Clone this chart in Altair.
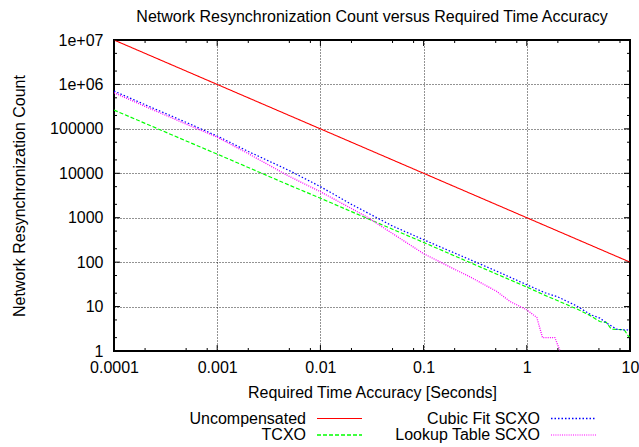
import json
import altair as alt
import pandas as pd

# ---------------- data ----------------
series = ["Uncompensated", "TCXO", "Cubic Fit SCXO", "Lookup Table SCXO"]
colors = ["#ff0000", "#00ff00", "#0000ff", "#ff00ff"]

unc_t = [0.0001, 0.001, 0.01, 0.1, 1, 10]
unc_n = [1e7, 1e6, 1e5, 1e4, 1000, 100]

tcxo_t = [0.0001, 0.0002, 0.0005, 0.001, 0.002, 0.005, 0.01, 0.02, 0.05, 0.1,
          0.2, 0.5, 1, 1.44, 2, 3, 4, 5.1, 5.9, 6.6, 8.8, 9.6, 10]
tcxo_n = [265000, 133000, 53500, 27000, 13500, 5400, 2750, 1370, 550, 278,
          138, 55, 27.5, 18.7, 13.5, 9, 6.5, 4.6, 4.4, 3.1, 3, 2.2, 2]

cubic_t = [0.0001, 0.0002, 0.0005, 0.001, 0.002, 0.005, 0.01, 0.02, 0.05, 0.1,
           0.2, 0.5, 1, 1.5, 2, 3, 4.2, 5.1, 6, 7.4, 8.5, 9.4, 10]
cubic_n = [710000, 350000, 140000, 69000, 31000, 11500, 5000, 2000, 650, 320,
           160, 64, 31, 20.5, 16.5, 10.5, 6.5, 5.5, 4.2, 3.1, 3, 3, 2.8]

lookup_t = [0.0001, 0.0002, 0.0005, 0.001, 0.002, 0.005, 0.01, 0.02, 0.028, 0.05,
            0.1, 0.2, 0.28, 0.51, 0.69, 1, 1.25, 1.42, 1.87, 2.1]
lookup_n = [650000, 320000, 128000, 65000, 27700, 8500, 3850, 1610, 1050, 440,
            155, 69, 47, 22, 13, 8.4, 5.7, 2, 2, 1]

x_ticks = [0.0001, 0.001, 0.01, 0.1, 1, 10]
x_tick_labels = ["0.0001", "0.001", "0.01", "0.1", "1", "10"]
y_ticks = [1, 10, 100, 1000, 10000, 100000, 1e6, 1e7]
y_tick_labels = ["1", "10", "100", "1000", "10000", "100000", "1e+06", "1e+07"]

# ---------------- build table ----------------
rows = []
for name, ts, ns in [(series[0], unc_t, unc_n), (series[1], tcxo_t, tcxo_n),
                     (series[2], cubic_t, cubic_n), (series[3], lookup_t, lookup_n)]:
    for t, n in zip(ts, ns):
        rows.append({"series": name, "t": t, "n": n})
df = pd.DataFrame(rows)

x_minor = [d * m for d in x_ticks[:-1] for m in (2, 5, 8)]
y_minor = [d * m for d in y_ticks[:-1] for m in (2, 5)]

W, H = 516, 311
FONT = "Liberation Sans"
dashes = [[1, 0], [4, 2], [1.5, 2], [1, 1.2]]
widths = [1.1, 1.3, 1.4, 1.2]

xs = alt.Scale(type="log", domain=[1e-4, 10], nice=False)
ys = alt.Scale(type="log", domain=[1, 1e7], nice=False)

x_axis = alt.Axis(
    values=x_ticks,
    labelExpr=f"{json.dumps(x_tick_labels)}[round(log(datum.value)/LN10) + 4]",
    title="Required Time Accuracy [Seconds]",
    titleY=46, titleBaseline="alphabetic",
    labelPadding=8, labelFlush=False, labelOverlap=False,
    grid=True, gridColor="#000000", gridDash=[1, 2], gridWidth=1, gridOpacity=0.85,
)
y_axis = alt.Axis(
    values=y_ticks,
    labelExpr=f"{json.dumps(y_tick_labels)}[round(log(datum.value)/LN10)]",
    title="Network Resynchronization Count",
    titleX=-90, titleY=H / 2, titleBaseline="alphabetic",
    labelPadding=11, labelFlush=False, labelOverlap=False,
    grid=True, gridColor="#000000", gridDash=[1, 2], gridWidth=1, gridOpacity=0.85,
)

lines = alt.Chart(df).mark_line(clip=True).encode(
    x=alt.X("t:Q", scale=xs, axis=x_axis),
    y=alt.Y("n:Q", scale=ys, axis=y_axis),
    color=alt.Color("series:N", scale=alt.Scale(domain=series, range=colors), legend=None),
    strokeDash=alt.StrokeDash("series:N", scale=alt.Scale(domain=series, range=dashes), legend=None),
    strokeWidth=alt.StrokeWidth("series:N", scale=alt.Scale(domain=series, range=widths), legend=None),
)

layers = [lines]

# inward tick marks on all four sides
for vals, ln in [(x_ticks, 6), (x_minor, 3)]:
    tdf = pd.DataFrame({"t": vals})
    base = alt.Chart(tdf).mark_rule(color="black", strokeWidth=1)
    layers.append(base.encode(x=alt.X("t:Q", scale=xs, axis=x_axis), y=alt.value(H), y2=alt.value(H - ln)))
    layers.append(base.encode(x=alt.X("t:Q", scale=xs, axis=x_axis), y=alt.value(0), y2=alt.value(ln)))
for vals, ln in [(y_ticks, 6), (y_minor, 3)]:
    tdf = pd.DataFrame({"n": vals})
    base = alt.Chart(tdf).mark_rule(color="black", strokeWidth=1)
    layers.append(base.encode(y=alt.Y("n:Q", scale=ys, axis=y_axis), x=alt.value(0), x2=alt.value(ln)))
    layers.append(base.encode(y=alt.Y("n:Q", scale=ys, axis=y_axis), x=alt.value(W), x2=alt.value(W - ln)))

# gnuplot-style key: text right-aligned, sample line to its right
one = pd.DataFrame({"k": [0]})
for i, name in enumerate(series):
    col, row = i // 2, i % 2
    tx = 192 + col * 234
    ly = 378.5 + row * 16.5
    layers.append(alt.Chart(one).mark_text(align="right", baseline="middle", font=FONT,
                                           fontSize=16, color="black").encode(
        x=alt.value(tx), y=alt.value(ly), text=alt.value(name)))
    layers.append(alt.Chart(one).mark_rule(color=colors[i], strokeDash=dashes[i],
                                           strokeWidth=widths[i]).encode(
        x=alt.value(tx + 11), x2=alt.value(tx + 56), y=alt.value(ly)))

chart = alt.layer(*layers).properties(
    width=W, height=H,
    background="white",
    padding={"left": 114, "top": 40, "right": 9, "bottom": 96},
    autosize=alt.AutoSizeParams(type="none"),
    title=alt.TitleParams(
        "Network Resynchronization Count versus Required Time Accuracy",
        font=FONT, fontSize=16, fontWeight="normal", color="black",
        anchor="middle", offset=7, frame="group",
    ),
).configure_view(
    stroke="black", strokeWidth=2
).configure_axis(
    labelFont=FONT, labelFontSize=16, labelColor="black",
    titleFont=FONT, titleFontSize=16, titleFontWeight="normal", titleColor="black",
    ticks=False, domain=False,
)

chart.save("out.html", embed_options={"renderer": "svg", "actions": False})
